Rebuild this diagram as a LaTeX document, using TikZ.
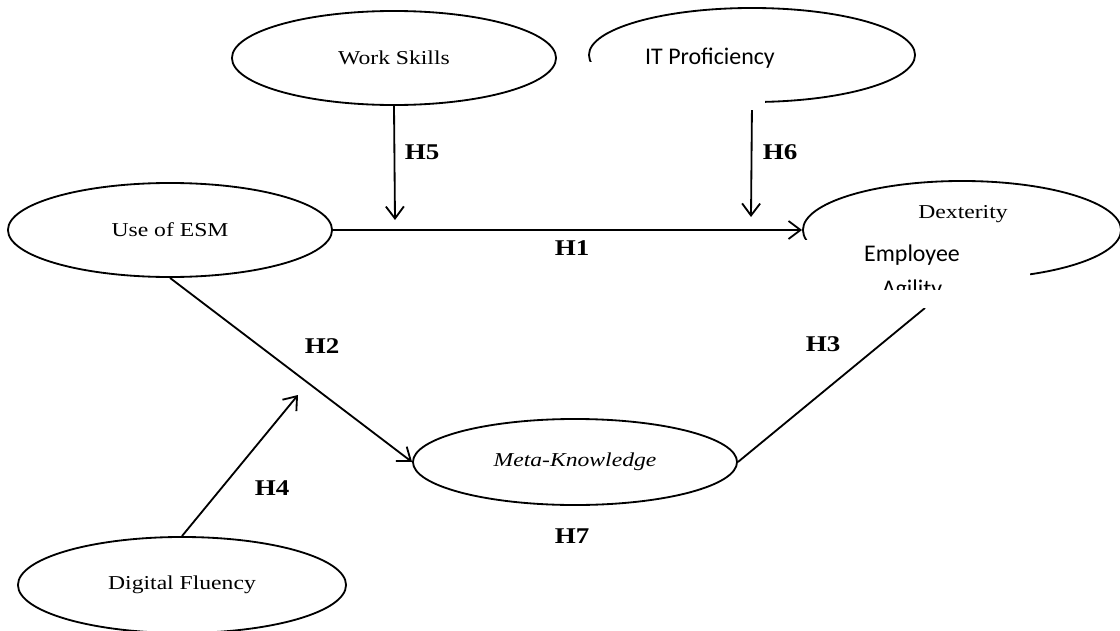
\documentclass[tikz,border=0pt]{standalone}
\usepackage{fontspec}
\setmainfont[FakeStretch=1.2]{Liberation Serif}
\newfontfamily\calfont{Carlito}
\usetikzlibrary{arrows.meta,shapes.geometric}

\begin{document}
\begin{tikzpicture}[x=0.025cm, y=-0.025cm,
  var/.style={draw, ellipse, line width=1.3pt, inner sep=0pt,
    minimum width=8.1cm, minimum height=2.35cm,
    font=\fontsize{14}{16}\selectfont},
  path/.style={line width=1.3pt, -{Straight Barb[length=3mm,width=4.5mm]}},
  hyp/.style={font=\bfseries\fontsize{16}{18}\selectfont},
  cover/.style={fill=white, draw=none}]
\useasboundingbox (0,0) rectangle (1120,631);

\node[var] (ws) at (394,58) {Work Skills};
\node[var, minimum width=8.15cm] (itp) at (752,55) {};
\node[var] (esm) at (170,230) {Use of ESM};
\node[var, minimum width=7.95cm, minimum height=2.45cm] (dex) at (962,230) {};
\node[var, minimum height=2.15cm, font=\itshape\fontsize{14}{16}\selectfont] (meta) at (575,462) {Meta-Knowledge};
\node[var, minimum width=8.2cm, minimum height=2.4cm] (dig) at (182,585) {Digital Fluency};

\coordinate (h5) at (395,220);
\coordinate (h6) at (751,217);
\coordinate (h4) at (298,395);
\coordinate (ea) at (925,308);

\draw[path] (ws.south) -- (h5);
\draw[path] (itp.south) -- (h6);
\draw[path] (esm.east) -- (dex.west);
\draw[path] (esm.south) -- (meta.west);
\draw[path] (dig.north) -- (h4);
\draw[line width=1.3pt] (meta.east) -- (ea);

\node[hyp] (l1) at (572,248) {H1};
\node[hyp] (l2) at (322,346) {H2};
\node[hyp] (l3) at (823,344) {H3};
\node[hyp] (l4) at (272,488) {H4};
\node[hyp] (l5) at (422,152) {H5};
\node[hyp] (l6) at (780,152) {H6};
\node[hyp] (l7) at (572,536) {H7};

\fill[cover] (585,62) rectangle (765,110);
\node[font=\calfont\fontsize{17}{20}\selectfont] (itpt) at (710,58) {IT Proficiency};

\node[font=\fontsize{14}{16}\selectfont] (dext) at (963,214) {Dexterity};
\fill[cover] (800,240) rectangle (1030,308);
\begin{scope}
  \clip (800,240) rectangle (1030,289);
  \node[font=\calfont\fontsize{17}{25}\selectfont, align=center] (eag) at (912,273) {Employee\\Agility};
\end{scope}
\end{tikzpicture}
\end{document}
